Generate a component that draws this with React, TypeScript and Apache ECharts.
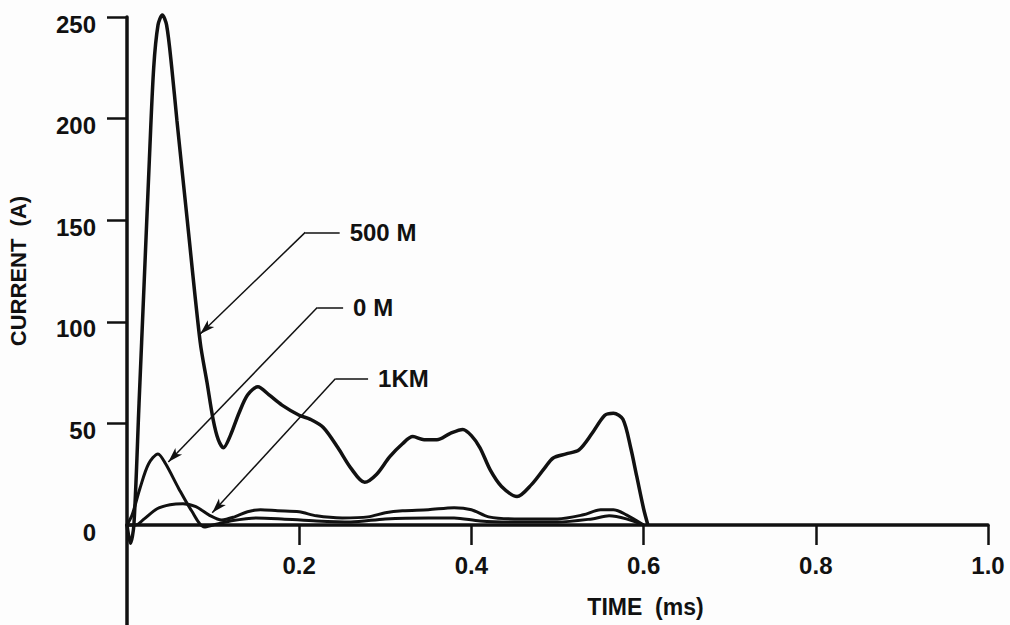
import React, { useEffect, useRef } from "react";
import * as echarts from "echarts";

// Time (ms) and current (A) samples
const time500M = [0, 0.004, 0.008, 0.014, 0.02, 0.026, 0.031, 0.036, 0.041, 0.046, 0.052, 0.058, 0.07, 0.085, 0.093, 0.1, 0.106, 0.112, 0.12, 0.13, 0.14, 0.152, 0.165, 0.18, 0.2, 0.213, 0.228, 0.245, 0.26, 0.276, 0.29, 0.305, 0.32, 0.332, 0.345, 0.36, 0.375, 0.39, 0.4, 0.41, 0.422, 0.435, 0.453, 0.47, 0.485, 0.495, 0.51, 0.525, 0.54, 0.555, 0.565, 0.576, 0.585, 0.592, 0.6, 0.605];
const current500M = [0, -9, 0, 60, 120, 180, 225, 246, 251, 246, 225, 199, 150, 90, 70, 52, 42, 38, 44, 55, 64, 68, 64, 59, 54, 52, 48, 38, 28, 21, 25, 33.5, 40, 43.5, 42, 42, 45, 47, 44, 38, 27, 19, 14, 20, 28, 33, 35, 37, 45, 54, 55, 52, 38, 24, 8, 0];

const time0M = [0, 0.006, 0.015, 0.025, 0.036, 0.045, 0.06, 0.075, 0.09, 0.1, 0.12, 0.15, 0.18, 0.22, 0.26, 0.3, 0.35, 0.38, 0.41, 0.45, 0.5, 0.54, 0.56, 0.58, 0.6];
const current0M = [0, 5, 18, 30, 35, 30, 18, 7, -1, 0, 2, 3.5, 3, 2, 1.5, 3, 3.5, 3.5, 2, 1.5, 1.5, 3, 4.5, 3, 0];

const time1KM = [0, 0.01, 0.02, 0.035, 0.05, 0.065, 0.08, 0.095, 0.11, 0.125, 0.14, 0.155, 0.175, 0.2, 0.22, 0.25, 0.28, 0.3, 0.32, 0.35, 0.38, 0.4, 0.42, 0.45, 0.5, 0.53, 0.55, 0.565, 0.58, 0.6];
const current1KM = [0, 0, 3, 8, 10, 10.5, 9, 5, 2.5, 4, 6.5, 7.5, 7, 6.5, 4.5, 3.5, 4, 6, 7, 7.5, 8.5, 7.5, 4, 3, 3, 5, 7.5, 7.5, 5, 0];

const xTicks = [0.2, 0.4, 0.6, 0.8, 1.0];
const yTicks = [50, 100, 150, 200, 250];
const yLabels = [0, 50, 100, 150, 200, 250];

// Annotation leaders: label, elbow time, end of horizontal time, level, arrow tip (time, current)
const labelNames = ["500 M", "0 M", "1KM"];
const labelElbowT = [0.207, 0.221, 0.242];
const labelEndT = [0.247, 0.251, 0.28];
const labelLevel = [144, 107, 72];
const arrowTipT = [0.085, 0.048, 0.099];
const arrowTipA = [94, 31, 6];

const zip = (t: number[], v: number[]) => t.map((x, i) => [x, v[i]]);

const FONT = "'Liberation Sans', Arial, Helvetica, sans-serif";
const INK = "#111";

export default function App() {
  const ref = useRef<HTMLDivElement>(null);
  useEffect(() => {
    if (!ref.current) return;
    const chart = echarts.init(ref.current, undefined, { renderer: "svg" });

    const markData: any[] = [];
    labelNames.forEach((name, i) => {
      markData.push([
        { coord: [labelElbowT[i], labelLevel[i]], symbol: "none" },
        {
          coord: [labelEndT[i], labelLevel[i]],
          symbol: "none",
          label: {
            show: true,
            position: "end",
            formatter: name,
            distance: 10,
            color: INK,
            fontFamily: FONT,
            fontWeight: "bold",
            fontSize: 24,
          },
        },
      ]);
      markData.push([
        { coord: [labelElbowT[i], labelLevel[i]], symbol: "none" },
        { coord: [arrowTipT[i], arrowTipA[i]], symbol: "arrow", symbolSize: [7, 15], label: { show: false } },
      ]);
    });

    const lineSeries = (name: string, data: number[][], width: number) => ({
      name,
      type: "line",
      xAxisIndex: 0,
      yAxisIndex: 0,
      data,
      smooth: 0.3,
      symbol: "none",
      clip: false,
      lineStyle: { color: INK, width },
      z: 3,
    });

    const bold = { color: INK, fontFamily: FONT, fontWeight: "bold" as const };

    chart.setOption({
      animation: false,
      backgroundColor: "#fdfdfd",
      grid: [
        { left: 127, right: 22, top: 17, bottom: 100, containLabel: false, outerBoundsMode: "none" },
        { left: 127, right: 22, top: 525, bottom: 0, containLabel: false, outerBoundsMode: "none" },
      ],
      xAxis: [
        {
          type: "value",
          gridIndex: 0,
          min: 0,
          max: 1.0,
          name: "TIME  (ms)",
          nameLocation: "middle",
          nameGap: 70,
          nameTextStyle: { ...bold, fontSize: 23, padding: [0, 0, 0, 176] },
          axisLine: { onZero: false, lineStyle: { color: INK, width: 3.5 } },
          axisTick: { show: true, customValues: xTicks, length: 20, lineStyle: { color: INK, width: 2.5 } },
          axisLabel: {
            ...bold,
            customValues: xTicks,
            margin: 28,
            fontSize: 24,
            formatter: (v: number) => v.toFixed(1),
          },
          splitLine: { show: false },
        },
        {
          type: "value",
          gridIndex: 1,
          min: 0,
          max: 1.0,
          show: false,
        },
      ],
      yAxis: [
        {
          type: "value",
          gridIndex: 0,
          min: 0,
          max: 250,
          name: "CURRENT  (A)",
          nameLocation: "middle",
          nameGap: 98,
          nameTextStyle: { ...bold, fontSize: 22 },
          axisLine: { onZero: false, lineStyle: { color: INK, width: 3.5 } },
          axisTick: { show: true, customValues: yTicks, length: 20, lineStyle: { color: INK, width: 2.5 } },
          axisLabel: {
            ...bold,
            customValues: yLabels,
            margin: 31,
            fontSize: 24,
            verticalAlign: "top",
            lineHeight: 14,
          },
          splitLine: { show: false },
        },
        {
          type: "value",
          gridIndex: 1,
          min: -49,
          max: 0,
          axisLine: { show: true, onZero: false, lineStyle: { color: INK, width: 3.5 } },
          axisTick: { show: false },
          axisLabel: { show: false },
          splitLine: { show: false },
        },
      ],
      series: [
        {
          ...lineSeries("500 M", zip(time500M, current500M), 3.5),
          markLine: {
            silent: true,
            symbol: ["none", "none"],
            lineStyle: { color: INK, width: 1.5, type: "solid" },
            label: { show: false },
            emphasis: { disabled: true },
            data: markData,
          },
        },
        lineSeries("0 M", zip(time0M, current0M), 3),
        lineSeries("1KM", zip(time1KM, current1KM), 3),
      ],
    });
    return () => chart.dispose();
  }, []);

  return (
    <div
      ref={ref}
      style={{ position: "fixed", left: 0, top: 0, width: 1010, height: 625 }}
    />
  );
}
